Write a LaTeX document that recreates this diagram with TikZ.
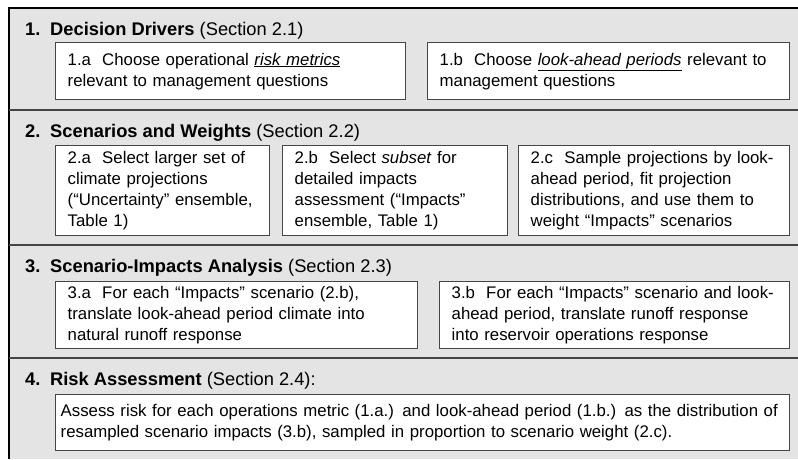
\documentclass[tikz,border=0pt]{standalone}
\usepackage{fontspec}
\setmainfont{Liberation Sans}
\usepackage{tikz}
\usetikzlibrary{positioning}

\definecolor{panelgray}{HTML}{E4E4E4}
\definecolor{rulegray}{HTML}{454545}
\newcommand{\boxfont}{\fontsize{16.8}{21}\selectfont}
\newcommand{\headfont}{\fontsize{18.3}{22}\selectfont}
\newcommand{\hnum}[1]{\makebox[25pt][l]{\bfseries #1}}
\tikzset{
	stepbox/.style={draw=rulegray, line width=1.4pt, fill=white, anchor=north west,
		align=left, inner xsep=12pt, inner ysep=0pt, font=\boxfont},
	headtext/.style={anchor=base west, inner sep=0pt, font=\headfont},
}

\begin{document}
\begin{tikzpicture}[x=1pt,y=1pt]
		\useasboundingbox (0,0) rectangle (798,-459);
		\fill[panelgray] (9,-8) rectangle (798,-459);
		\draw[black,line width=2pt] (9,-459) -- (9,-8) -- (798,-8);
		\foreach \y in {110,245,358}{
			\draw[rulegray,line width=1.8pt] (9,-\y) -- (798,-\y);
		}
		% 1
		\node[headtext] (h1) at (25,-35) {\hnum{1.}\textbf{Decision Drivers} (Section 2.1)};
		\node[stepbox, text width=326pt, minimum height=57pt] (b1a) at (55,-42)
			{1.a\ \ Choose operational \underline{\textit{risk metrics}}\\relevant to management questions};
		\node[stepbox, text width=338pt, minimum height=57pt] (b1b) at (427,-42)
			{1.b\ \ Choose \underline{\textit{look-ahead periods}} relevant to\\management questions};
		% 2
		\node[headtext] (h2) at (25,-137) {\hnum{2.}\textbf{Scenarios and Weights} (Section 2.2)};
		\node[stepbox, text width=190pt, minimum height=90pt] (b2a) at (55,-145)
			{2.a\ \ Select larger set of\\climate projections\\(“Uncertainty” ensemble,\\Table 1)};
		\node[stepbox, text width=201pt, minimum height=90pt] (b2b) at (282,-145)
			{2.b\ \ Select \textit{subset} for\\detailed impacts\\assessment (“Impacts”\\ensemble, Table 1)};
		\node[stepbox, text width=247pt, minimum height=90pt] (b2c) at (518,-145)
			{2.c\ \ Sample projections by look-\\ahead period, fit projection\\distributions, and use them to\\weight “Impacts” scenarios};
		% 3
		\node[headtext] (h3) at (25,-272) {\hnum{3.}\textbf{Scenario-Impacts Analysis} (Section 2.3)};
		\node[stepbox, text width=338pt, minimum height=67pt] (b3a) at (55,-281)
			{3.a\ \ For each “Impacts” scenario (2.b),\\translate look-ahead period climate into\\natural runoff response};
		\node[stepbox, text width=326pt, minimum height=67pt] (b3b) at (439,-281)
			{3.b\ \ For each “Impacts” scenario and look-\\ahead period, translate runoff response\\into reservoir operations response};
		% 4
		\node[headtext] (h4) at (25,-385) {\hnum{4.}\textbf{Risk Assessment} (Section 2.4):};
		\node[stepbox, inner xsep=5pt, text width=724pt, minimum height=56pt] (b4) at (55,-394)
			{Assess risk for each operations metric (1.a.) and look-ahead period (1.b.) as the distribution of\\resampled scenario impacts (3.b), sampled in proportion to scenario weight (2.c).};
	\end{tikzpicture}
\end{document}
